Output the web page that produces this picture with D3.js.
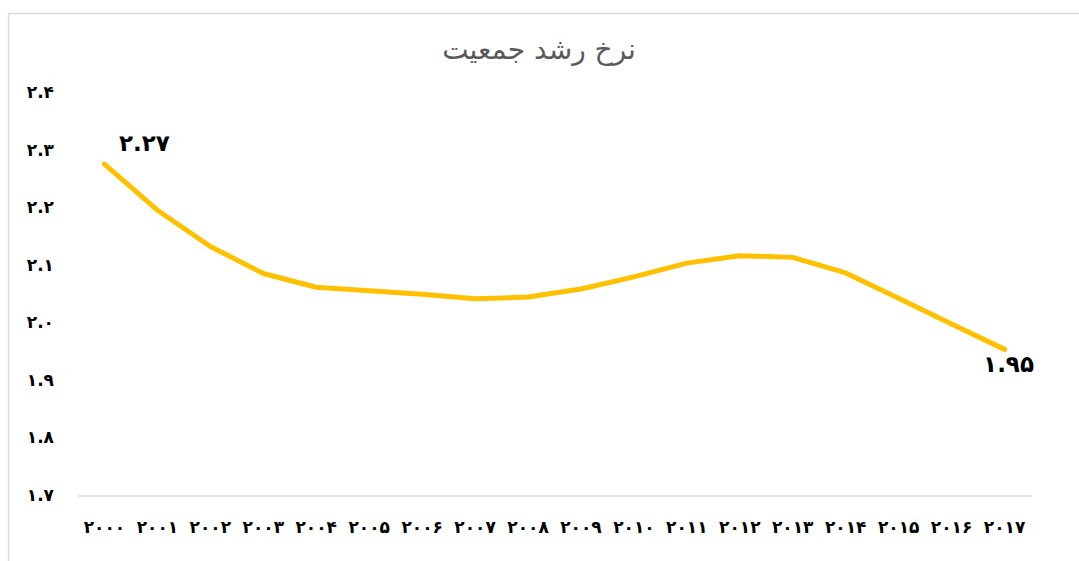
<!DOCTYPE html>
<html>
<head>
<meta charset="utf-8">
<script src="https://cdn.jsdelivr.net/npm/d3@7"></script>
<style>
  html, body { margin: 0; padding: 0; background: #fff; }
  svg { display: block; }
</style>
</head>
<body>
<svg id="chart" width="1079" height="561"></svg>
<script>
const title = "نرخ رشد جمعیت";
const years = ["۲۰۰۰","۲۰۰۱","۲۰۰۲","۲۰۰۳","۲۰۰۴","۲۰۰۵","۲۰۰۶","۲۰۰۷","۲۰۰۸","۲۰۰۹",
               "۲۰۱۰","۲۰۱۱","۲۰۱۲","۲۰۱۳","۲۰۱۴","۲۰۱۵","۲۰۱۶","۲۰۱۷"];
const growthRate = [2.277, 2.197, 2.134, 2.087, 2.063, 2.057, 2.051, 2.043, 2.046, 2.060,
                    2.081, 2.105, 2.118, 2.115, 2.088, 2.044, 1.999, 1.955];
const yTicks = [1.7, 1.8, 1.9, 2.0, 2.1, 2.2, 2.3, 2.4];
const yTickLabels = ["۱.۷","۱.۸","۱.۹","۲.۰","۲.۱","۲.۲","۲.۳","۲.۴"];
const pointLabels = [{index: 0, text: "۲.۲۷"}, {index: 17, text: "۱.۹۵"}];

const svg = d3.select("#chart");
const FONT = "'DejaVu Sans', 'Noto Sans', sans-serif";

// outer border
svg.append("rect")
  .attr("x", 8.5).attr("y", 13.5)
  .attr("width", 1090).attr("height", 570)
  .attr("fill", "#fff").attr("stroke", "#d9d9d9").attr("stroke-width", 1.5);

const x = d3.scaleBand().domain(years).range([78, 1031]);
const y = d3.scaleLinear().domain([1.7, 2.4]).range([496, 93.5]);

// title
svg.append("text")
  .attr("x", 539).attr("y", 59)
  .attr("text-anchor", "middle")
  .attr("font-family", FONT)
  .attr("font-size", 28)
  .attr("fill", "#595959")
  .text(title);

// x axis baseline
svg.append("line")
  .attr("x1", x.range()[0]).attr("x2", x.range()[1])
  .attr("y1", y(1.7)).attr("y2", y(1.7))
  .attr("stroke", "#d9d9d9").attr("stroke-width", 1.5);

// y tick labels
svg.append("g").selectAll("text")
  .data(yTicks)
  .join("text")
  .attr("x", 54)
  .attr("y", d => y(d) - 1)
  .attr("dy", "0.35em")
  .attr("text-anchor", "end")
  .attr("font-family", FONT)
  .attr("font-weight", "bold")
  .attr("font-size", 17)
  .attr("fill", "#000")
  .text((d, i) => yTickLabels[i]);

// x tick labels
svg.append("g").selectAll("text")
  .data(years)
  .join("text")
  .attr("x", d => x(d) + x.bandwidth() / 2)
  .attr("y", 527)
  .attr("dy", "0.35em")
  .attr("text-anchor", "middle")
  .attr("font-family", FONT)
  .attr("font-weight", "bold")
  .attr("font-size", 17)
  .attr("fill", "#000")
  .text(d => d);

// line
const line = d3.line()
  .x((d, i) => x(years[i]) + x.bandwidth() / 2)
  .y(d => y(d));

svg.append("path")
  .datum(growthRate)
  .attr("d", line)
  .attr("fill", "none")
  .attr("stroke", "#ffc000")
  .attr("stroke-width", 5)
  .attr("stroke-linecap", "round")
  .attr("stroke-linejoin", "round");

// data labels
svg.append("g").selectAll("text")
  .data(pointLabels)
  .join("text")
  .attr("x", d => x(years[d.index]) + x.bandwidth() / 2 + (d.index === 0 ? 40 : 4))
  .attr("y", d => y(growthRate[d.index]) + (d.index === 0 ? -21 : 15))
  .attr("dy", "0.35em")
  .attr("text-anchor", "middle")
  .attr("font-family", FONT)
  .attr("font-weight", "bold")
  .attr("font-size", 23)
  .attr("fill", "#000")
  .text(d => d.text);
</script>
</body>
</html>
